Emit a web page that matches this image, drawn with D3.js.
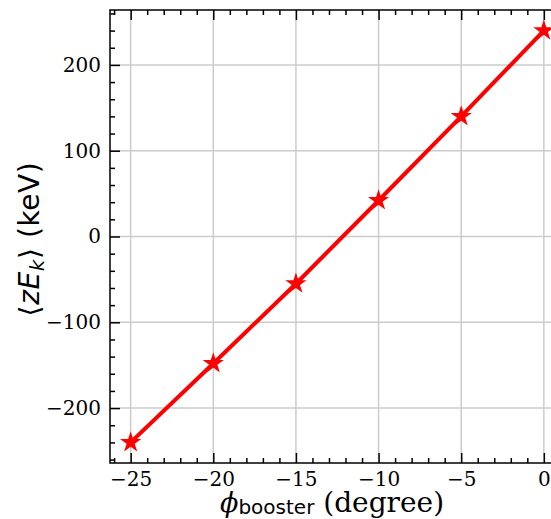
<!DOCTYPE html>
<html>
<head>
<meta charset="utf-8">
<script src="https://cdn.jsdelivr.net/npm/d3@7"></script>
<style>
  body { margin: 0; background: #fff; }
  svg { display: block; }
</style>
</head>
<body>
<div id="chart"></div>
<script>
// booster phase (degree) vs mean energy offset (keV)
var phase = [-25, -20, -15, -10, -5, 0];
var energy = [-240, -148, -55, 42, 140, 240];
var xTicks = [-25, -20, -15, -10, -5, 0];
var yTicks = [-200, -100, 0, 100, 200];

var svgwidth = 551, svgheight = 519;
var margin = { top: 10, left: 110, bottom: 56 };
var plotRight = 564.5; // right spine falls just off the page

var svg = d3.select("#chart")
  .append("svg")
  .attr("width", svgwidth)
  .attr("height", svgheight);

var xscale = d3.scaleLinear()
  .domain([-26.25, 1.25])
  .range([margin.left, plotRight]);

var yscale = d3.scaleLinear()
  .domain([-264, 264])
  .range([svgheight - margin.bottom, margin.top]);

var x0 = margin.left, x1 = plotRight;
var y0 = svgheight - margin.bottom, y1 = margin.top;

// grid
svg.append("g").selectAll("line.gx")
  .data(xTicks).enter().append("line")
  .attr("x1", d => xscale(d)).attr("x2", d => xscale(d))
  .attr("y1", y0).attr("y2", y1)
  .attr("stroke", "#cccccc").attr("stroke-width", 1.5);
svg.append("g").selectAll("line.gy")
  .data(yTicks).enter().append("line")
  .attr("y1", d => yscale(d)).attr("y2", d => yscale(d))
  .attr("x1", x0).attr("x2", x1)
  .attr("stroke", "#cccccc").attr("stroke-width", 1.5);

// inward ticks on all sides
var xMinor = d3.range(-26, 2, 1).filter(d => xTicks.indexOf(d) < 0);
var yMinor = d3.range(-260, 261, 20).filter(d => yTicks.indexOf(d) < 0);

var fmt = d => d < 0 ? "\u2212" + Math.abs(d) : d;
var bottomAxis = d3.axisBottom(xscale).tickValues(xTicks).tickSizeInner(-10).tickSizeOuter(0)
  .tickPadding(9).tickFormat(fmt);
var topAxis = d3.axisTop(xscale).tickValues(xTicks).tickSizeInner(-10).tickSizeOuter(0).tickFormat("");
var leftAxis = d3.axisLeft(yscale).tickValues(yTicks).tickSizeInner(-10).tickSizeOuter(0)
  .tickPadding(9).tickFormat(fmt);

function minor(g, axisFn, scale, vals) {
  g.call(axisFn(scale).tickValues(vals).tickSizeInner(-5).tickSizeOuter(0).tickFormat(""));
}

svg.append("g").attr("transform", `translate(0,${y0})`).call(bottomAxis);
minor(svg.append("g").attr("transform", `translate(0,${y0})`), d3.axisBottom, xscale, xMinor);
svg.append("g").attr("transform", `translate(0,${y1})`).call(topAxis);
minor(svg.append("g").attr("transform", `translate(0,${y1})`), d3.axisTop, xscale, xMinor);
svg.append("g").attr("transform", `translate(${x0},0)`).call(leftAxis);
minor(svg.append("g").attr("transform", `translate(${x0},0)`), d3.axisLeft, yscale, yMinor);

svg.selectAll(".domain").remove();
svg.selectAll(".tick line").attr("stroke", "#000").attr("stroke-width", 1.5);
svg.selectAll(".tick text")
  .attr("fill", "#000")
  .style("font-family", "'DejaVu Serif', serif")
  .style("font-size", "20px");

// spines
svg.append("rect")
  .attr("x", x0).attr("y", y1)
  .attr("width", x1 - x0).attr("height", y0 - y1)
  .attr("fill", "none").attr("stroke", "#000").attr("stroke-width", 1.5);

// line + star markers
var line = d3.line().x((d, i) => xscale(phase[i])).y(d => yscale(d));
svg.append("path")
  .datum(energy)
  .attr("d", line)
  .attr("fill", "none")
  .attr("stroke", "#ff0000")
  .attr("stroke-width", 4);

var star = d3.symbol().type(d3.symbolStar).size(140);
svg.selectAll("path.pt")
  .data(energy).enter().append("path")
  .attr("class", "pt")
  .attr("transform", (d, i) => `translate(${xscale(phase[i])},${yscale(d)})`)
  .attr("d", star)
  .attr("fill", "#ff0000");

// axis labels
var xl = svg.append("text")
  .attr("x", 220).attr("y", 512)
  .attr("fill", "#000");
xl.append("tspan").text("\u03d5")
  .style("font-family", "'DejaVu Serif', serif").style("font-style", "italic").style("font-size", "27px");
xl.append("tspan").text("booster").attr("dy", 2)
  .style("font-family", "'DejaVu Sans', sans-serif").style("font-size", "20px");
xl.append("tspan").text(" (degree)").attr("dy", -2)
  .style("font-family", "'DejaVu Serif', serif").style("font-size", "28px");

var yl = svg.append("text")
  .attr("transform", "translate(39,239) rotate(-90)")
  .attr("text-anchor", "middle")
  .attr("fill", "#000")
  .style("font-family", "'DejaVu Sans', sans-serif")
  .style("font-size", "28px")
  .style("letter-spacing", "0.6px");
yl.append("tspan").text("\u27e8");
yl.append("tspan").text("zE").style("font-style", "italic");
yl.append("tspan").text("k").attr("dy", 5).style("font-size", "20px").style("font-style", "italic");
yl.append("tspan").text("\u27e9 (keV)").attr("dy", -5);
</script>
</body>
</html>
